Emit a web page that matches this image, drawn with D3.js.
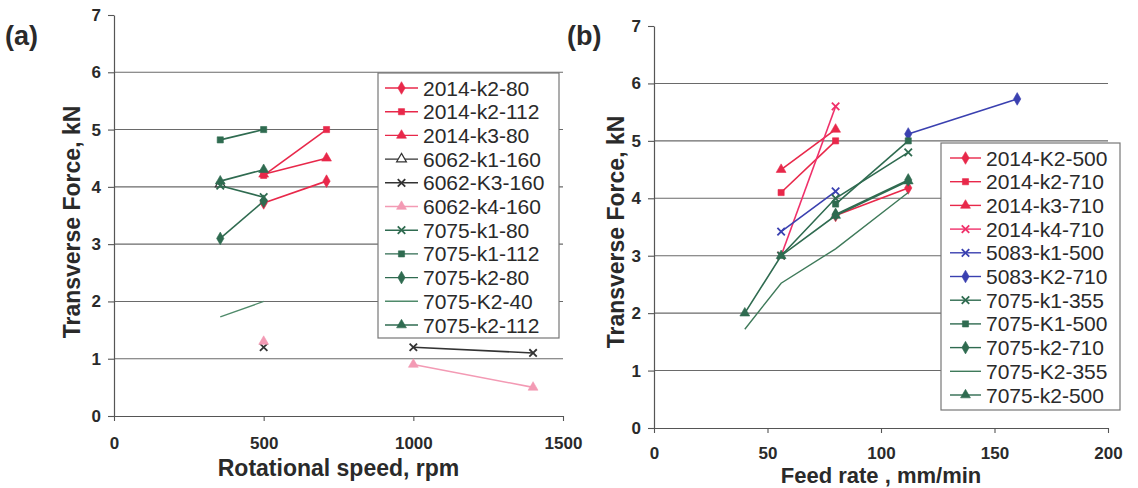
<!DOCTYPE html>
<html>
<head>
<meta charset="utf-8">
<script src="https://cdn.jsdelivr.net/npm/d3@7"></script>
<style>
  html, body { margin: 0; padding: 0; background: #ffffff; }
  svg { display: block; font-family: "Liberation Sans", Arial, sans-serif; }
</style>
</head>
<body>
<svg id="chart" width="1138" height="488"></svg>
<script>
// ---------- Panel (a) data ----------
const aNames  = ["2014-k2-80","2014-k2-112","2014-k3-80","6062-k1-160","6062-K3-160","6062-k4-160",
                 "7075-k1-80","7075-k1-112","7075-k2-80","7075-K2-40","7075-k2-112"];
const aX = [[500,710],[500,710],[500,710],[355],[500,710,1000,1400],[500,710,1000,1400],
            [355,500],[355,500],[355,500],[355,500],[355,500]];
const aY = [[3.72,4.1],[4.2,5.0],[4.22,4.5],[4.05],[1.2,null,1.2,1.1],[1.3,null,0.9,0.5],
            [4.02,3.82],[4.82,5.0],[3.1,3.75],[1.73,2.0],[4.1,4.3]];
const aColors  = ["#e8284a","#e8284a","#e8284a","#333333","#333333","#f39ab4",
                  "#2f6b50","#2f6b50","#2f6b50","#4f8a6a","#2f6b50"];
const aMarkers = ["diamond","square","triangle","otriangle","x","triangle",
                  "x","square","diamond","none","triangle"];
const aXTicks = [0,500,1000,1500];

// ---------- Panel (b) data ----------
const bNames  = ["2014-K2-500","2014-k2-710","2014-k3-710","2014-k4-710","5083-k1-500","5083-K2-710",
                 "7075-k1-355","7075-K1-500","7075-k2-710","7075-K2-355","7075-k2-500"];
const bX = [[80,112],[56,80],[56,80],[56,80],[56,80],[112,160],
            [56,80,112],[80,112],[80,112],[40,56,80,112],[40,56,80,112]];
const bY = [[3.7,4.18],[4.1,5.0],[4.5,5.2],[3.0,5.6],[3.42,4.12],[5.12,5.73],
            [3.0,4.0,4.8],[3.9,5.0],[3.72,4.32],[1.72,2.52,3.12,4.1],[2.0,3.0,3.7,4.3]];
const bColors  = ["#e8284a","#e8284a","#e8284a","#f0306a","#3a40b0","#3a40b0",
                  "#2f6b50","#2f6b50","#2f6b50","#3f7a5a","#2f6b50"];
const bMarkers = ["diamond","square","triangle","x","x","diamond",
                  "x","square","diamond","none","triangle"];
const bXTicks = [0,50,100,150,200];

const yTicks = [0,1,2,3,4,5,6,7];

// ---------- drawing ----------
const svg = d3.select("#chart");
const FONT = "'Liberation Sans', Arial, sans-serif";
const TXT = "#2a2a2a";

function symbolPath(kind) {
  if (kind === "diamond") return d3.symbol(d3.symbolDiamond, 46)();
  if (kind === "square") return d3.symbol(d3.symbolSquare, 38)();
  if (kind === "triangle" || kind === "otriangle") return d3.symbol(d3.symbolTriangle, 42)();
  if (kind === "x") return d3.symbol(d3.symbolX, 38)();
  return null;
}

function drawMarker(g, kind, color, x, y) {
  const p = symbolPath(kind);
  if (!p) return;
  const m = g.append("path").attr("d", p).attr("transform", `translate(${x},${y})`);
  if (kind === "x") {
    m.attr("fill", "none").attr("stroke", color).attr("stroke-width", 1.8);
  } else if (kind === "otriangle") {
    m.attr("fill", "#ffffff").attr("stroke", color).attr("stroke-width", 1.2);
  } else {
    m.attr("fill", color).attr("stroke", color).attr("stroke-width", 0.6);
  }
}

function drawPanel(cfg) {
  const x = d3.scaleLinear().domain(cfg.xDomain).range(cfg.xRange);
  const y = d3.scaleLinear().domain([0,7]).range(cfg.yRange);
  const g = svg.append("g");

  // gridlines 1..6
  g.selectAll("line.grid").data(yTicks.filter(t => t > 0 && t < 7)).enter()
    .append("line")
    .attr("x1", cfg.xRange[0]).attr("x2", cfg.xRange[1])
    .attr("y1", d => y(d)).attr("y2", d => y(d))
    .attr("stroke", "#6a6a6a").attr("stroke-width", 1.1);

  // axes
  const ax = g.append("g").attr("transform", `translate(0,${cfg.yRange[0]})`)
    .call(d3.axisBottom(x).tickValues(cfg.xTicks).tickSize(5).tickSizeOuter(0).tickPadding(cfg.xPad).tickFormat(d3.format("d")));
  const ay = g.append("g").attr("transform", `translate(${cfg.xRange[0]},0)`)
    .call(d3.axisLeft(y).tickValues(yTicks).tickSize(6).tickSizeOuter(0).tickPadding(7).tickFormat(d3.format("d")));
  [ax, ay].forEach(a => {
    a.select(".domain").attr("stroke", "#555").attr("stroke-width", 1.2);
    a.selectAll(".tick line").attr("stroke", "#555").attr("stroke-width", 1.1);
    a.selectAll(".tick text").attr("fill", TXT).style("font-family", FONT)
      .style("font-size", "17px").style("font-weight", "bold");
  });

  // series
  const line = d3.line().defined(d => d[1] !== null).x(d => x(d[0])).y(d => y(d[1]));
  cfg.names.forEach((name, i) => {
    const pts = cfg.xs[i].map((v, j) => [v, cfg.ys[i][j]]);
    const isPlain = cfg.markers[i] === "none";
    g.append("path").datum(pts).attr("d", line)
      .attr("fill", "none").attr("stroke", cfg.colors[i])
      .attr("stroke-width", isPlain ? 1.4 : 1.6);
    pts.filter(d => d[1] !== null).forEach(d => drawMarker(g, cfg.markers[i], cfg.colors[i], x(d[0]), y(d[1])));
  });

  // legend
  const L = cfg.legend;
  g.append("rect").attr("x", L.x).attr("y", L.y).attr("width", L.w).attr("height", L.h)
    .attr("fill", "#ffffff").attr("stroke", "#777").attr("stroke-width", 1.2);
  cfg.names.forEach((name, i) => {
    const yy = L.y0 + i * L.step;
    g.append("line").attr("x1", L.lx1).attr("x2", L.lx2).attr("y1", yy).attr("y2", yy)
      .attr("stroke", cfg.colors[i]).attr("stroke-width", 1.4);
    drawMarker(g, cfg.markers[i], cfg.colors[i], (L.lx1 + L.lx2) / 2, yy);
    g.append("text").attr("x", L.tx).attr("y", yy).attr("dy", "0.36em")
      .attr("fill", TXT).style("font-family", FONT).style("font-size", "21px")
      .text(name);
  });

  // titles
  g.append("text").attr("x", (cfg.xRange[0] + cfg.xRange[1]) / 2).attr("y", cfg.xTitleY)
    .attr("text-anchor", "middle").attr("fill", TXT).style("font-family", FONT)
    .style("font-size", cfg.xTitleSize).style("font-weight", "bold").text(cfg.xTitle);
  g.append("text").attr("transform", `translate(${cfg.yTitleX},${cfg.yTitleCY}) rotate(-90)`)
    .attr("text-anchor", "middle").attr("fill", TXT).style("font-family", FONT)
    .style("font-size", "23px").style("font-weight", "bold").text("Transverse Force, kN");
  g.append("text").attr("x", cfg.tagX).attr("y", 45).attr("fill", TXT).style("font-family", FONT)
    .style("font-size", "27px").style("font-weight", "bold").text(cfg.tag);
}

drawPanel({
  names: aNames, xs: aX, ys: aY, colors: aColors, markers: aMarkers,
  xDomain: [0,1500], xRange: [114,563], yRange: [416,15], xTicks: aXTicks, xPad: 16,
  legend: {x: 378, y: 73, w: 181, h: 265, y0: 88, step: 23.7, lx1: 385, lx2: 418, tx: 423},
  xTitle: "Rotational speed, rpm", xTitleY: 476, xTitleSize: "23px", yTitleX: 80, yTitleCY: 222,
  tag: "(a)", tagX: 5
});

drawPanel({
  names: bNames, xs: bX, ys: bY, colors: bColors, markers: bMarkers,
  xDomain: [0,200], xRange: [654,1108], yRange: [428,26], xTicks: bXTicks, xPad: 14,
  legend: {x: 941, y: 143, w: 179, h: 267, y0: 158, step: 23.7, lx1: 950, lx2: 981, tx: 986},
  xTitle: "Feed rate , mm/min", xTitleY: 483, xTitleSize: "22px", yTitleX: 624, yTitleCY: 232,
  tag: "(b)", tagX: 567
});
</script>
</body>
</html>
